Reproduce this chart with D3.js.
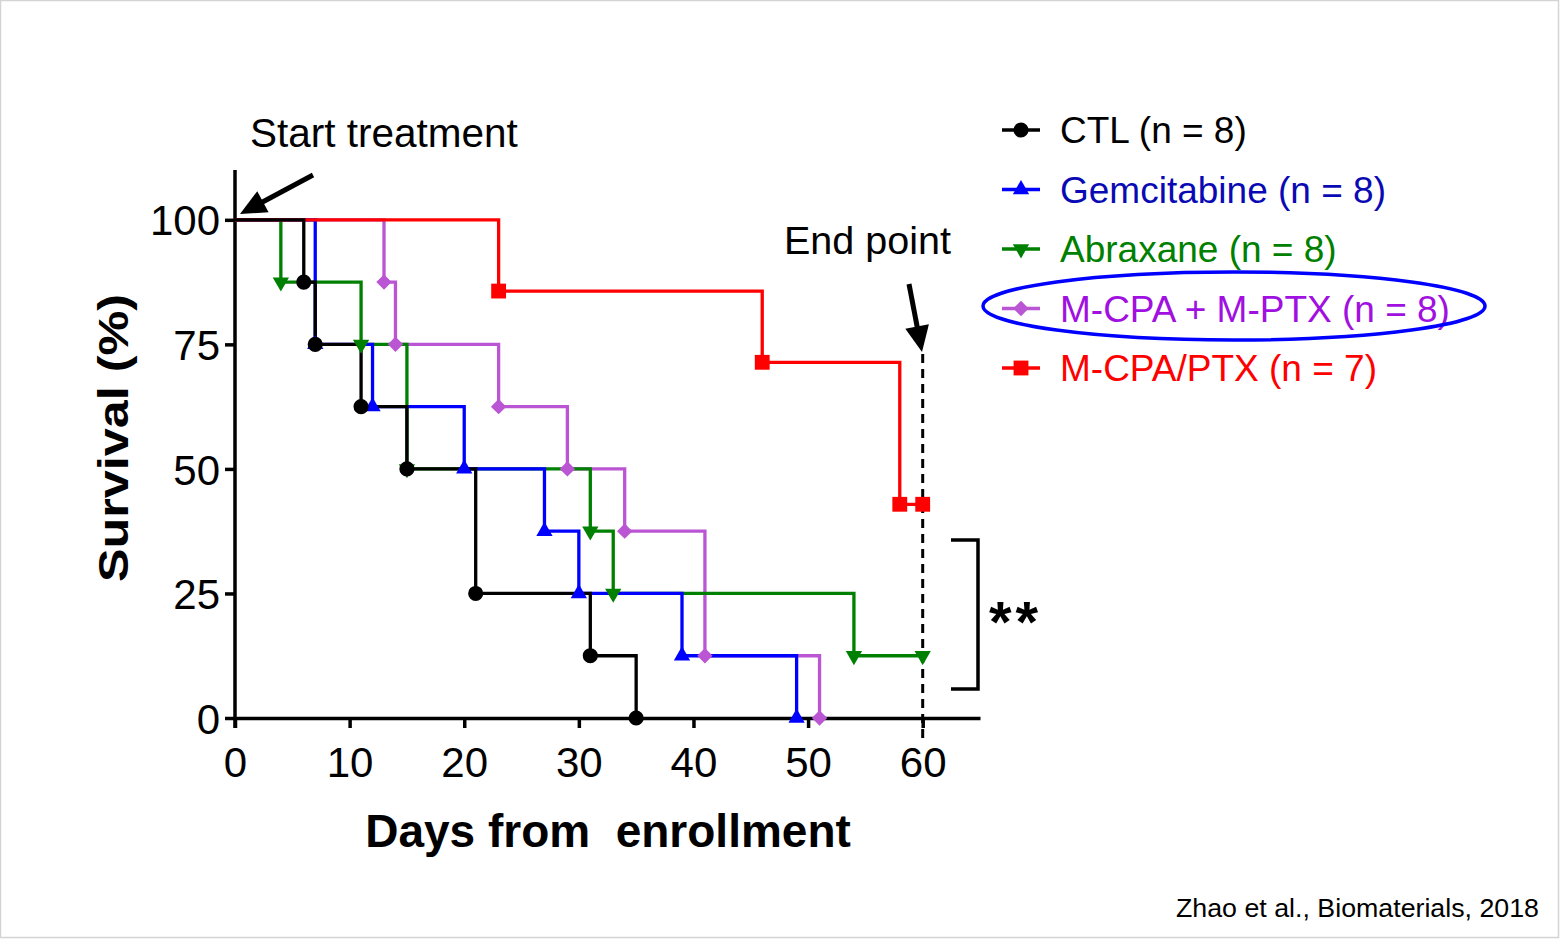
<!DOCTYPE html>
<html>
<head>
<meta charset="utf-8">
<script src="https://cdn.jsdelivr.net/npm/d3@7"></script>
<style>
  body { margin: 0; background: #fff; }
  text { font-family: "Liberation Sans", Arial, sans-serif; }
</style>
</head>
<body>
<svg id="chart" width="1563" height="939"></svg>
<script>
// survival data (day of event, survival % after it)
var ctlDays = [6, 7, 11, 15, 21, 31, 35];
var ctlSurv = [87.5, 75, 62.5, 50, 25, 12.5, 0];
var gemDays = [7, 12, 20, 27, 30, 39, 49];
var gemSurv = [75, 62.5, 50, 37.5, 25, 12.5, 0];
var abxDays = [4, 11, 15, 31, 33, 54];
var abxSurv = [87.5, 75, 50, 37.5, 25, 12.5];
var abxCensor = [60];
var mixDays = [13, 14, 23, 29, 34, 41, 51];
var mixSurv = [87.5, 75, 62.5, 50, 37.5, 12.5, 0];
var comboDays = [23, 46, 58];
var comboSurv = [85.7, 71.4, 42.9];
var comboCensor = [60];

var xTicks = [0, 10, 20, 30, 40, 50, 60];
var yTicks = [0, 25, 50, 75, 100];
var legendLabels = ["CTL (n = 8)", "Gemcitabine (n = 8)", "Abraxane (n = 8)", "M-CPA + M-PTX (n = 8)", "M-CPA/PTX (n = 7)"];

var svg = d3.select("#chart");

//light frame round the picture
svg.append("rect")
  .attr("x", 0.5).attr("y", 0.5)
  .attr("width", 1558).attr("height", 937)
  .attr("fill", "none").attr("stroke", "#d4d4d4").attr("stroke-width", 1.5);

var x = d3.scaleLinear().domain([0, 65]).range([235, 980]);
var y = d3.scaleLinear().domain([0, 110]).range([718, 170]);

//series, listed bottom to top in drawing order
var series = [
  {name: legendLabels[3], days: mixDays, surv: mixSurv, censor: [], color: "#ba55d3", text: "#a010e0", shape: "diamond"},
  {name: legendLabels[2], days: abxDays, surv: abxSurv, censor: abxCensor, color: "#008000", text: "#008000", shape: "down"},
  {name: legendLabels[1], days: gemDays, surv: gemSurv, censor: [], color: "#0000ff", text: "#0a0ab4", shape: "up"},
  {name: legendLabels[4], days: comboDays, surv: comboSurv, censor: comboCensor, color: "#ff0000", text: "#ff0000", shape: "square"},
  {name: legendLabels[0], days: ctlDays, surv: ctlSurv, censor: [], color: "#000000", text: "#000000", shape: "circle"}
];

function marker(g, shape, color, cx, cy) {
  var p;
  if (shape == "circle") p = d3.symbol(d3.symbolCircle, 180)();
  else if (shape == "square") p = d3.symbol(d3.symbolSquare, 220)();
  else if (shape == "up" || shape == "down") p = d3.symbol(d3.symbolTriangle, 115)();
  else p = d3.symbol(d3.symbolSquare, 118)();
  var rot = shape == "down" ? 180 : (shape == "diamond" ? 45 : 0);
  g.append("path")
    .attr("d", p)
    .attr("fill", color)
    .attr("transform", "translate(" + cx + "," + cy + ") rotate(" + rot + ")");
}

//straight arrow with a filled head, tip at (x2,y2)
function arrow(x1, y1, x2, y2, len, half) {
  var dx = x2 - x1, dy = y2 - y1, d = Math.sqrt(dx * dx + dy * dy);
  var ux = dx / d, uy = dy / d;
  var bx = x2 - ux * len, by = y2 - uy * len;
  svg.append("line")
    .attr("x1", x1).attr("y1", y1).attr("x2", bx + ux * 2).attr("y2", by + uy * 2)
    .attr("stroke", "#000").attr("stroke-width", 5);
  svg.append("path")
    .attr("d", "M" + x2 + "," + y2 + "L" + (bx - uy * half) + "," + (by + ux * half) +
               "L" + (bx + uy * half) + "," + (by - ux * half) + "Z")
    .attr("fill", "#000");
}

var line = d3.line()
  .x(function(d) { return x(d[0]); })
  .y(function(d) { return y(d[1]); })
  .curve(d3.curveStepAfter);

//dashed end point line
svg.append("line")
  .attr("x1", x(60)).attr("x2", x(60))
  .attr("y1", 354).attr("y2", 740)
  .attr("stroke", "#000").attr("stroke-width", 3)
  .attr("stroke-dasharray", "9,6");

//axes
var xAxis = svg.append("g")
  .attr("transform", "translate(0," + y(0) + ")")
  .call(d3.axisBottom(x).tickValues(xTicks).tickSize(10).tickSizeOuter(0).tickPadding(19));
var yAxis = svg.append("g")
  .attr("transform", "translate(" + x(0) + ",0)")
  .call(d3.axisLeft(y).tickValues(yTicks).tickSize(10).tickSizeOuter(0).tickPadding(5));

[xAxis, yAxis].forEach(function(a) {
  a.select(".domain").attr("stroke", "#000").attr("stroke-width", 3.5);
  a.selectAll(".tick line").attr("stroke", "#000").attr("stroke-width", 3.5);
  a.selectAll(".tick text").attr("fill", "#000")
    .style("font-family", "'Liberation Sans', Arial, sans-serif").style("font-size", "42px");
});
yAxis.select(".domain").attr("d", "M0," + y(110) + "V" + (y(0) + 10));
yAxis.selectAll(".tick text").attr("dy", "0.36em");

//survival curves
series.forEach(function(s) {
  var pts = [[0, 100]];
  s.days.forEach(function(d, i) { pts.push([d, s.surv[i]]); });
  s.censor.forEach(function(c) { pts.push([c, s.surv[s.surv.length - 1]]); });
  svg.append("path")
    .datum(pts)
    .attr("d", line)
    .attr("fill", "none")
    .attr("stroke", s.color)
    .attr("stroke-width", 3.3);
});
series.forEach(function(s) {
  var g = svg.append("g");
  s.days.forEach(function(d, i) { marker(g, s.shape, s.color, x(d), y(s.surv[i])); });
  s.censor.forEach(function(c) { marker(g, s.shape, s.color, x(c), y(s.surv[s.surv.length - 1])); });
});

//axis titles
svg.append("text")
  .attr("transform", "translate(128,438) rotate(-90)")
  .attr("text-anchor", "middle")
  .attr("textLength", 288).attr("lengthAdjust", "spacingAndGlyphs")
  .style("font-size", "42px").style("font-weight", "bold")
  .text("Survival (%)");
svg.append("text")
  .attr("x", 608).attr("y", 847)
  .attr("text-anchor", "middle")
  .style("white-space", "pre")
  .style("font-size", "46px").style("font-weight", "bold")
  .text("Days from  enrollment");

//annotations
svg.append("text").attr("x", 250).attr("y", 147)
  .style("font-size", "40.5px").text("Start treatment");
svg.append("text").attr("x", 784).attr("y", 254)
  .style("font-size", "39.5px").text("End point");

arrow(313, 175, 240, 214, 26, 12);
arrow(909, 284, 922, 352, 26, 12);

//significance bracket
svg.append("path")
  .attr("d", "M951,540H978V689H951")
  .attr("fill", "none").attr("stroke", "#000").attr("stroke-width", 3.5);
svg.append("text").attr("x", 989).attr("y", 642)
  .style("font-size", "58px").style("font-weight", "bold")
  .style("letter-spacing", "4px").text("**");

//legend
var legendOrder = [series[4], series[2], series[1], series[0], series[3]];
legendOrder.forEach(function(s, i) {
  var ly = 130 + i * 59.5;
  var g = svg.append("g");
  g.append("line")
    .attr("x1", 1002).attr("x2", 1040).attr("y1", ly).attr("y2", ly)
    .attr("stroke", s.color).attr("stroke-width", 3.3);
  marker(g, s.shape, s.color, 1021, ly);
  g.append("text")
    .attr("x", 1060).attr("y", ly + 13)
    .attr("fill", s.text)
    .style("font-size", "37px")
    .text(s.name);
});

svg.append("ellipse")
  .attr("cx", 1234).attr("cy", 306).attr("rx", 251).attr("ry", 34)
  .attr("fill", "none").attr("stroke", "#0000ff").attr("stroke-width", 3.5);

svg.append("text").attr("x", 1539).attr("y", 917)
  .attr("text-anchor", "end")
  .attr("textLength", 363).attr("lengthAdjust", "spacingAndGlyphs")
  .style("font-size", "25px").text("Zhao et al., Biomaterials, 2018");
</script>
</body>
</html>
